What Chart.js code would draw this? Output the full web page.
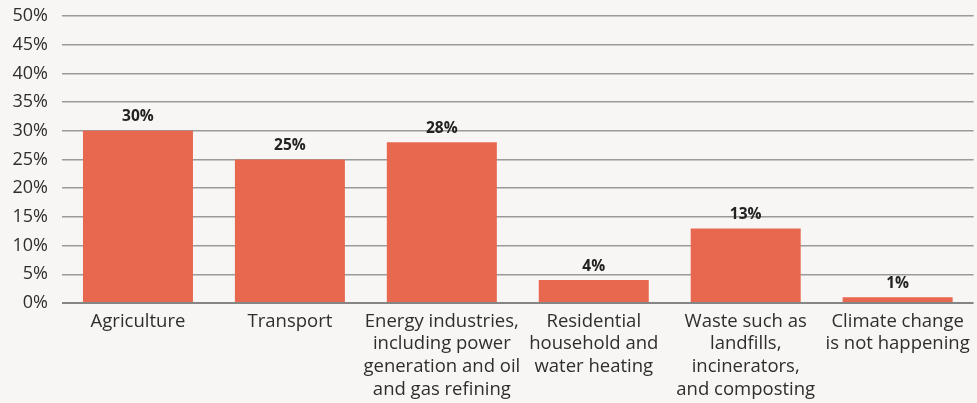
<!DOCTYPE html>
<html>
<head>
<meta charset="utf-8">
<script src="https://cdn.jsdelivr.net/npm/chart.js@4.4.1/dist/chart.umd.min.js"></script>
<style>
  html, body { margin: 0; padding: 0; background: #f7f6f4; }
  #wrap { width: 977px; height: 403px; position: relative; }
</style>
</head>
<body>
<div id="wrap"><canvas id="chart"></canvas></div>
<script>
/* emission sources bar chart */

const categories = [
  ['Agriculture'],
  ['Transport'],
  ['Energy industries,', 'including power', 'generation and oil', 'and gas refining'],
  ['Residential', 'household and', 'water heating'],
  ['Waste such as', 'landfills,', 'incinerators,', 'and composting'],
  ['Climate change', 'is not happening'],
];
const shares = [30, 25, 28, 4, 13, 1];
const yTicks = [0, 5, 10, 15, 20, 25, 30, 35, 40, 45, 50];

const FONT = "'Open Sans', sans-serif";
const TEXT = '#2e2e2e';

// value labels above each bar
const barLabels = {
  id: 'barLabels',
  afterDatasetsDraw(chart) {
    const ctx = chart.ctx;
    const meta = chart.getDatasetMeta(0);
    ctx.save();
    ctx.font = 'bold 15.5px ' + FONT;
    ctx.fillStyle = '#222';
    ctx.textAlign = 'center';
    ctx.textBaseline = 'bottom';
    meta.data.forEach(function(bar, i) {
      ctx.fillText(shares[i] + '%', bar.x, bar.y - 6);
    });
    ctx.restore();
  },
};

new Chart(document.getElementById('chart'), {
  type: 'bar',
  data: {
    labels: categories,
    datasets: [{
      data: shares,
      backgroundColor: '#e8684f',
      barPercentage: 0.724,
      categoryPercentage: 1,
    }],
  },
  options: {
    responsive: true,
    maintainAspectRatio: false,
    animation: false,
    layout: { padding: { top: 0, right: 3, left: 0, bottom: 0 } },
    plugins: {
      legend: { display: false },
      tooltip: { enabled: false },
    },
    scales: {
      x: {
        afterFit(scale) { scale.height = 100; },
        grid: { display: false, drawTicks: false },
        border: { display: false },
        ticks: {
          color: TEXT,
          font: { family: FONT, size: 18.5, lineHeight: 1.23 },
          padding: 7,
          maxRotation: 0,
          autoSkip: false,
        },
      },
      y: {
        min: 0,
        max: 50,
        afterFit(scale) {
          scale.width = 62;
          scale.paddingTop = 16;
          scale.paddingBottom = 0;
        },
        afterBuildTicks(scale) { scale.ticks = yTicks.map(function(v) { return { value: v }; }); },
        grid: {
          color: function(c) { return c.tick && c.tick.value === 0 ? '#858585' : '#9a9a9a'; },
          lineWidth: function(c) { return c.tick && c.tick.value === 0 ? 2 : 1.5; },
          drawTicks: false,
        },
        border: { display: false },
        ticks: {
          color: TEXT,
          font: { family: FONT, size: 18 },
          padding: 14,
          callback: function(v) { return v + '%'; },
        },
      },
    },
  },
  plugins: [barLabels],
});
</script>
</body>
</html>
